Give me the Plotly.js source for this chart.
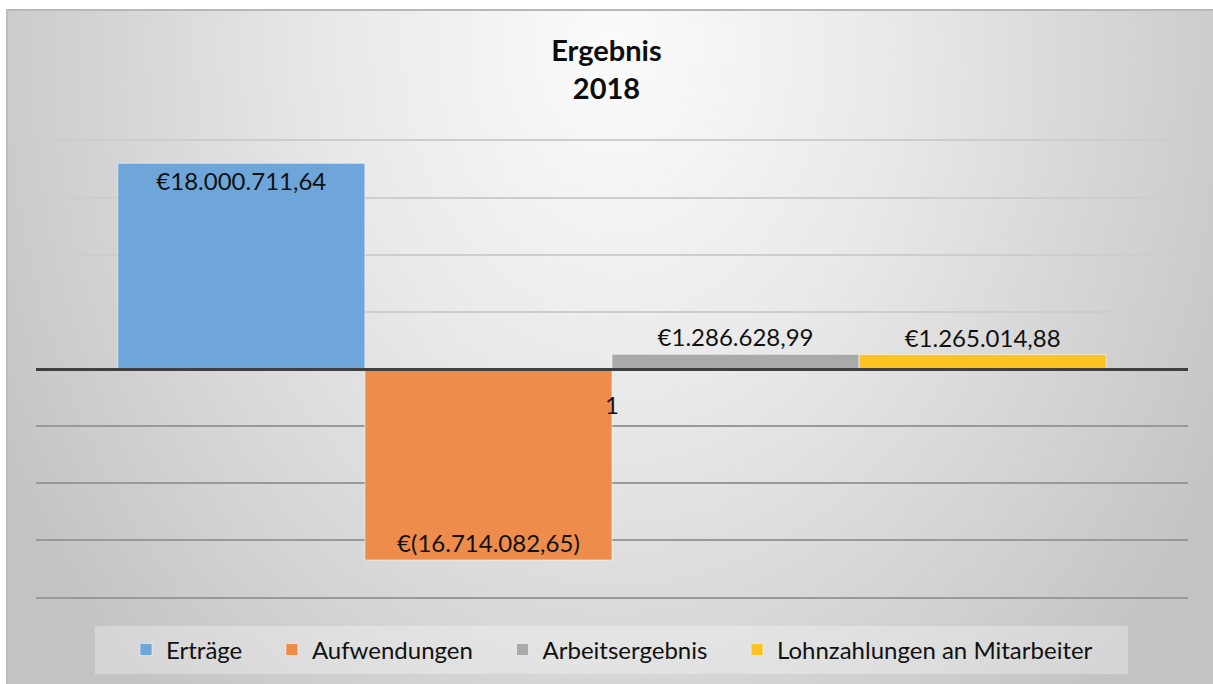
<!DOCTYPE html>
<html>
<head>
<meta charset="utf-8">
<script src="https://cdn.plot.ly/plotly-3.0.1.min.js"></script>
<style>
  html, body { margin:0; padding:0; width:1213px; height:684px; overflow:hidden; background:#ffffff; }
  #bg { position:absolute; left:6px; top:9px; width:1213px; height:680px;
        border-left:2px solid #bdbdbd; border-top:2px solid #b8b8b8;
        background: radial-gradient(ellipse 700px 900px at 50% 5%, #fbfbfb 0%, #e9e9e9 40%, #c3c3c3 100%); }
  #chart { position:absolute; left:0; top:0; width:1213px; height:684px; }
</style>
</head>
<body>
<div id="bg"></div>
<div id="chart"></div>
<script>
const categories = ["1"];
const seriesNames = ["Erträge", "Aufwendungen", "Arbeitsergebnis", "Lohnzahlungen an Mitarbeiter"];
const seriesValues = [18000711.64, -16714082.65, 1286628.99, 1265014.88];
const seriesColors = ["#6fa6da", "#ee8c4c", "#aaaaaa", "#fcc322"];
const labelPositions = ["inside", "inside", "outside", "outside"];
const yTicksUpper = [5000000, 10000000, 15000000, 20000000];
const yTicksLower = [-5000000, -10000000, -15000000, -20000000];

function fmtEuro(v) {
  const neg = v < 0;
  const a = Math.abs(v);
  const parts = a.toFixed(2).split(".");
  const intPart = parts[0].replace(/\B(?=(\d{3})+(?!\d))/g, ".");
  const s = intPart + "," + parts[1];
  return neg ? "€(" + s + ")" : "€" + s;
}

const FONT = "Lato, 'Open Sans', sans-serif";
const PAD = "\u00a0\u00a0\u00a0\u00a0";

const traces = seriesNames.map((name, i) => ({
  type: "bar",
  name: name + (i < seriesNames.length - 1 ? PAD : ""),
  x: categories,
  y: [seriesValues[i]],
  text: [fmtEuro(seriesValues[i])],
  textposition: labelPositions[i],
  insidetextanchor: "end",
  textangle: 0,
  cliponaxis: false,
  textfont: { family: FONT, size: 24, color: "#111111" },
  insidetextfont: { family: FONT, size: 24, color: "#111111" },
  outsidetextfont: { family: FONT, size: 24, color: "#111111" },
  marker: { color: seriesColors[i], line: { color: "rgba(255,255,255,0.55)", width: 1 } },
  hoverinfo: "skip"
}));

const plotTop = 137, plotBottom = 684 - 83, plotLeft = 36, plotRight = 1213 - 25;
const plotH = plotBottom - plotTop, plotW = plotRight - plotLeft;

const layout = {
  width: 1213, height: 684,
  paper_bgcolor: "rgba(0,0,0,0)",
  plot_bgcolor: "rgba(0,0,0,0)",
  margin: { l: plotLeft, r: 1213 - plotRight, t: plotTop, b: 684 - plotBottom, pad: 0 },
  barmode: "group",
  bargap: 0.142,
  bargroupgap: 0,
  title: {
    text: "<b>Ergebnis</b><br><b>2018</b>",
    font: { family: FONT, size: 29, color: "#0d0d0d" },
    x: 0.5, xanchor: "center",
    y: 1 - 61 / 684, yanchor: "top", yref: "container"
  },
  xaxis: {
    type: "category",
    range: [-0.5, 0.5],
    anchor: "free",
    position: 0.5,
    showgrid: false,
    showline: true,
    linecolor: "#404040",
    linewidth: 3,
    ticks: "",
    ticklabelstandoff: 14,
    tickfont: { family: FONT, size: 24, color: "#111111" },
    layer: "above traces",
    fixedrange: true
  },
  yaxis: {
    range: [-20300000, 20300000],
    tickmode: "array",
    tickvals: yTicksUpper,
    showticklabels: false,
    ticks: "",
    showgrid: true,
    gridcolor: "#cdcdcd",
    gridwidth: 2,
    minor: {
      tickmode: "array",
      tickvals: yTicksLower,
      ticks: "",
      showgrid: true,
      gridcolor: "#999999",
      gridwidth: 2
    },
    zeroline: false,
    showline: false,
    fixedrange: true
  },
  shapes: [{
    type: "rect", xref: "paper", yref: "paper", layer: "below",
    x0: (95 - plotLeft) / plotW, x1: (1128 - plotLeft) / plotW,
    y0: (plotBottom - 674) / plotH, y1: (plotBottom - 626) / plotH,
    fillcolor: "rgba(255,255,255,0.3)", line: { width: 0 }
  }],
  showlegend: true,
  legend: {
    orientation: "h",
    x: 0.5, xanchor: "center",
    y: (plotBottom - 650) / plotH, yanchor: "middle",
    bgcolor: "rgba(0,0,0,0)",
    font: { family: FONT, size: 24, color: "#111111" },
    itemwidth: 30,
    traceorder: "normal"
  }
};

Plotly.newPlot("chart", traces, layout, { displayModeBar: false, staticPlot: true });
</script>
</body>
</html>
